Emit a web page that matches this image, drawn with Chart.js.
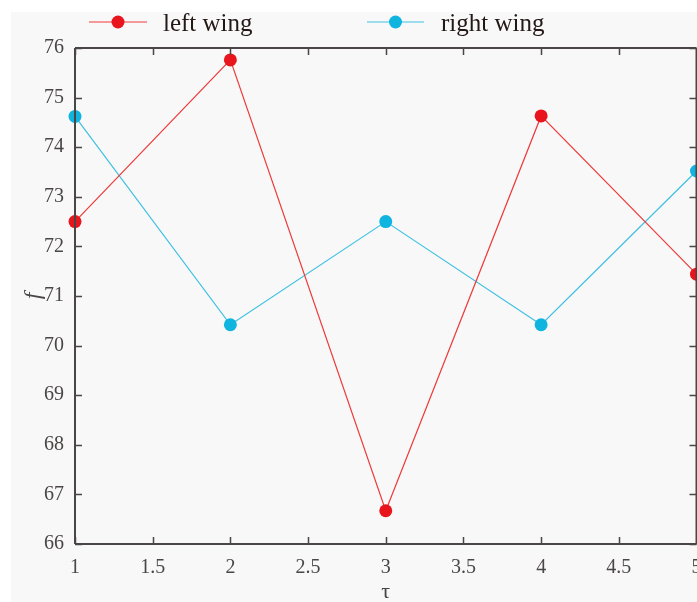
<!DOCTYPE html>
<html>
<head>
<meta charset="utf-8">
<script src="https://cdn.jsdelivr.net/npm/chart.js@4"></script>
<style>
  html, body { margin: 0; padding: 0; background: #ffffff; overflow: hidden; }
  #wrap { position: absolute; left: 0; top: 0; width: 703px; height: 602px; }
</style>
</head>
<body>
<div id="wrap"><canvas id="c"></canvas></div>
<script>
// Sampled values of f over tau for both wings
const tau = [1, 2, 3, 4, 5];
const leftWing = [72.5, 75.76, 66.67, 74.63, 71.44];
const rightWing = [74.62, 70.42, 72.5, 70.42, 73.52];

const xTicks = [1, 1.5, 2, 2.5, 3, 3.5, 4, 4.5, 5];
const yTicks = [66, 67, 68, 69, 70, 71, 72, 73, 74, 75, 76];

const seriesNames = ['left wing', 'right wing'];
const RED = '#e8161c';
const RED_LINE = '#ee3a3a';
const CYAN = '#0fb4df';
const CYAN_LINE = '#3ec0e2';
const AXIS = '#4a4646';
const SERIF = '"Liberation Serif", "DejaVu Serif", serif';

function toPoints(xs, ys) { return xs.map((x, i) => ({ x: x, y: ys[i] })); }

// Panel background, box axes with inward ticks, and the legend row
const framePlugin = {
  id: 'frame',
  beforeDraw(chart) {
    const ctx = chart.ctx;
    ctx.save();
    ctx.fillStyle = '#f8f8f8';
    ctx.fillRect(11, 12, chart.width - 11, chart.height - 12);
    ctx.restore();
  },
  afterDraw(chart) {
    const ctx = chart.ctx;
    const a = chart.chartArea;
    const xs = chart.scales.x, ys = chart.scales.y;
    ctx.save();
    ctx.strokeStyle = AXIS;
    ctx.lineWidth = 2;
    ctx.beginPath();
    ctx.moveTo(a.left, a.top); ctx.lineTo(a.right, a.top);
    ctx.moveTo(a.left, a.bottom); ctx.lineTo(a.right, a.bottom);
    ctx.moveTo(a.left, a.top); ctx.lineTo(a.left, a.bottom);
    ctx.moveTo(a.right, a.top); ctx.lineTo(a.right, a.bottom);
    ctx.stroke();
    ctx.lineWidth = 1.5;
    const tl = 7;
    ctx.beginPath();
    xTicks.forEach(v => {
      const px = Math.round(xs.getPixelForValue(v)) + 0.5;
      ctx.moveTo(px, a.bottom); ctx.lineTo(px, a.bottom - tl);
      ctx.moveTo(px, a.top); ctx.lineTo(px, a.top + tl);
    });
    yTicks.forEach(v => {
      const py = Math.round(ys.getPixelForValue(v)) + 0.5;
      ctx.moveTo(a.left, py); ctx.lineTo(a.left + tl, py);
      ctx.moveTo(a.right, py); ctx.lineTo(a.right - tl, py);
    });
    ctx.stroke();

    // legend
    const items = [
      { name: seriesNames[0], line: RED_LINE, dot: RED, x0: 89, x1: 147, tx: 163 },
      { name: seriesNames[1], line: CYAN_LINE, dot: CYAN, x0: 367, x1: 424, tx: 441 }
    ];
    const ly = 22;
    items.forEach(it => {
      ctx.strokeStyle = it.line;
      ctx.lineWidth = 1.2;
      ctx.beginPath();
      ctx.moveTo(it.x0, ly); ctx.lineTo(it.x1, ly);
      ctx.stroke();
      ctx.fillStyle = it.dot;
      ctx.beginPath();
      ctx.arc((it.x0 + it.x1) / 2, ly, 6.5, 0, Math.PI * 2);
      ctx.fill();
      ctx.fillStyle = '#231815';
      ctx.font = '25px ' + SERIF;
      ctx.textBaseline = 'alphabetic';
      ctx.textAlign = 'left';
      ctx.fillText(it.name, it.tx, 31);
    });
    ctx.restore();
  }
};

new Chart(document.getElementById('c'), {
  type: 'line',
  data: {
    datasets: [
      {
        label: seriesNames[0],
        data: toPoints(tau, leftWing),
        borderColor: RED_LINE,
        backgroundColor: RED,
        pointBackgroundColor: RED,
        pointBorderColor: RED,
        borderWidth: 1.2,
        pointRadius: 6.5,
        pointBorderWidth: 0,
        tension: 0,
        clip: false
      },
      {
        label: seriesNames[1],
        data: toPoints(tau, rightWing),
        borderColor: CYAN_LINE,
        backgroundColor: CYAN,
        pointBackgroundColor: CYAN,
        pointBorderColor: CYAN,
        borderWidth: 1.2,
        pointRadius: 6.5,
        pointBorderWidth: 0,
        tension: 0,
        clip: false
      }
    ]
  },
  options: {
    responsive: true,
    maintainAspectRatio: false,
    animation: false,
    layout: { padding: { top: 48, left: 0, right: 0, bottom: 0 } },
    plugins: {
      legend: { display: false },
      tooltip: { enabled: false }
    },
    scales: {
      x: {
        type: 'linear',
        min: 1,
        max: 5,
        afterBuildTicks(scale) { scale.ticks = xTicks.map(v => ({ value: v })); },
        afterFit(scale) { scale.height = 58; scale.paddingLeft = 0; scale.paddingRight = 0; },
        grid: { display: false, drawTicks: false },
        border: { display: false },
        ticks: {
          color: '#4a4646',
          font: { family: SERIF, size: 20 },
          padding: 12,
          maxRotation: 0,
          autoSkip: false,
          callback: v => String(v)
        },
        title: {
          display: true,
          text: 'τ',
          color: '#4a4646',
          font: { family: SERIF, size: 22, lineHeight: 0.9 },
          padding: { top: 0, bottom: 0 }
        }
      },
      y: {
        type: 'linear',
        min: 66,
        max: 76,
        afterBuildTicks(scale) { scale.ticks = yTicks.map(v => ({ value: v })); },
        afterFit(scale) { scale.width = 75; scale.paddingTop = 0; scale.paddingBottom = 0; },
        grid: { display: false, drawTicks: false },
        border: { display: false },
        ticks: {
          color: '#4a4646',
          font: { family: SERIF, size: 20 },
          padding: 11,
          autoSkip: false,
          callback: v => String(v)
        },
        title: {
          display: true,
          text: 'f',
          color: '#4a4646',
          font: { family: SERIF, size: 24, style: 'italic' },
          padding: { top: 19, bottom: 0 }
        }
      }
    }
  },
  plugins: [framePlugin]
});
</script>
</body>
</html>
